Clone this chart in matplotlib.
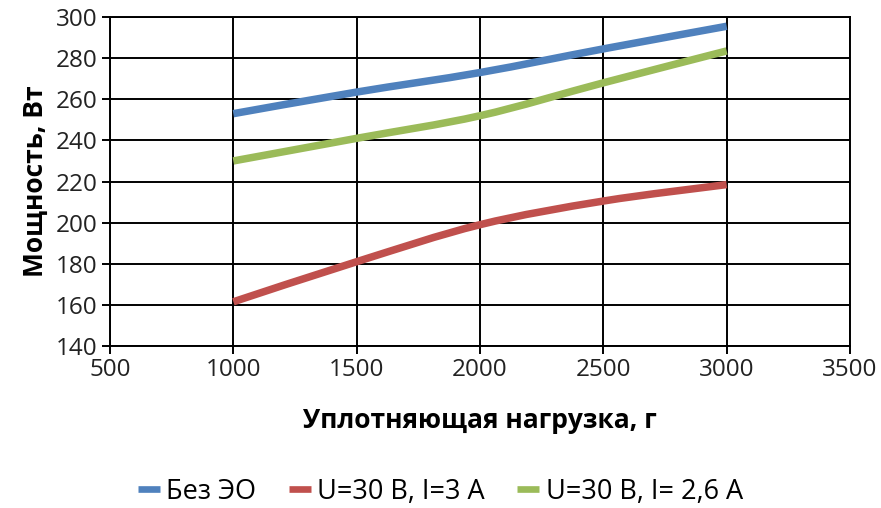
import numpy as np
import matplotlib.pyplot as plt
from matplotlib.path import Path
from matplotlib.patches import PathPatch
from matplotlib.lines import Line2D

plt.rcParams['font.family'] = ['Open Sans', 'DejaVu Sans']

# data
load = [1000, 1500, 2000, 2500, 3000]
no_eo = [253, 263.5, 273, 284.5, 295.5]
u30_i3 = [161.5, 181, 199, 210.5, 218.5]
u30_i26 = [230, 241, 252, 268, 283.5]

labels = ['Без ЭО', 'U=30 В, I=3 А', 'U=30 В, I= 2,6 А']
colors = ['#4F81BD', '#C0504D', '#9BBB59']


def smooth_path(x, y, t=1 / 6):
    # Excel-style smoothed line: cubic Bezier between points
    x = np.asarray(x, float)
    y = np.asarray(y, float)
    verts = [(x[0], y[0])]
    codes = [Path.MOVETO]
    n = len(x)
    for i in range(n - 1):
        x0, y0 = (x[i - 1], y[i - 1]) if i > 0 else (x[i], y[i])
        x3, y3 = (x[i + 2], y[i + 2]) if i + 2 < n else (x[i + 1], y[i + 1])
        c1 = (x[i] + t * (x[i + 1] - x0), y[i] + t * (y[i + 1] - y0))
        c2 = (x[i + 1] - t * (x3 - x[i]), y[i + 1] - t * (y3 - y[i]))
        verts += [c1, c2, (x[i + 1], y[i + 1])]
        codes += [Path.CURVE4] * 3
    return Path(verts, codes)


fig = plt.figure(figsize=(8.81, 5.08), dpi=100)
ax = fig.add_axes([0.1249, 0.3189, 0.8399, 0.6476])

for ys, c in zip([no_eo, u30_i3, u30_i26], colors):
    ax.add_patch(PathPatch(smooth_path(load, ys), fill=False, edgecolor=c,
                           lw=5.4, capstyle='butt', zorder=3))

ax.set_xlim(500, 3500)
ax.set_ylim(140, 300)
ax.set_xticks(np.arange(500, 3501, 500))
ax.set_yticks(np.arange(140, 301, 20))
ax.grid(True, color='black', lw=1.4)
ax.set_axisbelow(True)
for s in ax.spines.values():
    s.set_color('black')
    s.set_linewidth(1.4)
ax.tick_params(direction='out', length=6, width=1.4, color='black',
               labelsize=17.5, labelcolor='#222222', pad=3)

ax.set_xlabel('Уплотняющая нагрузка, г', fontsize=19, fontweight='bold', labelpad=18)
ax.set_ylabel('Мощность, Вт', fontsize=19, fontweight='bold', labelpad=5)

handles = [Line2D([], [], color=c, lw=4.8, solid_capstyle='butt') for c in colors]
fig.legend(handles, labels, loc='center', bbox_to_anchor=(0.5, 0.032), ncol=3,
           frameon=False, fontsize=19.5, handlelength=0.8, handletextpad=0.25,
           columnspacing=1.2)

fig.savefig('out.png', dpi=100)
